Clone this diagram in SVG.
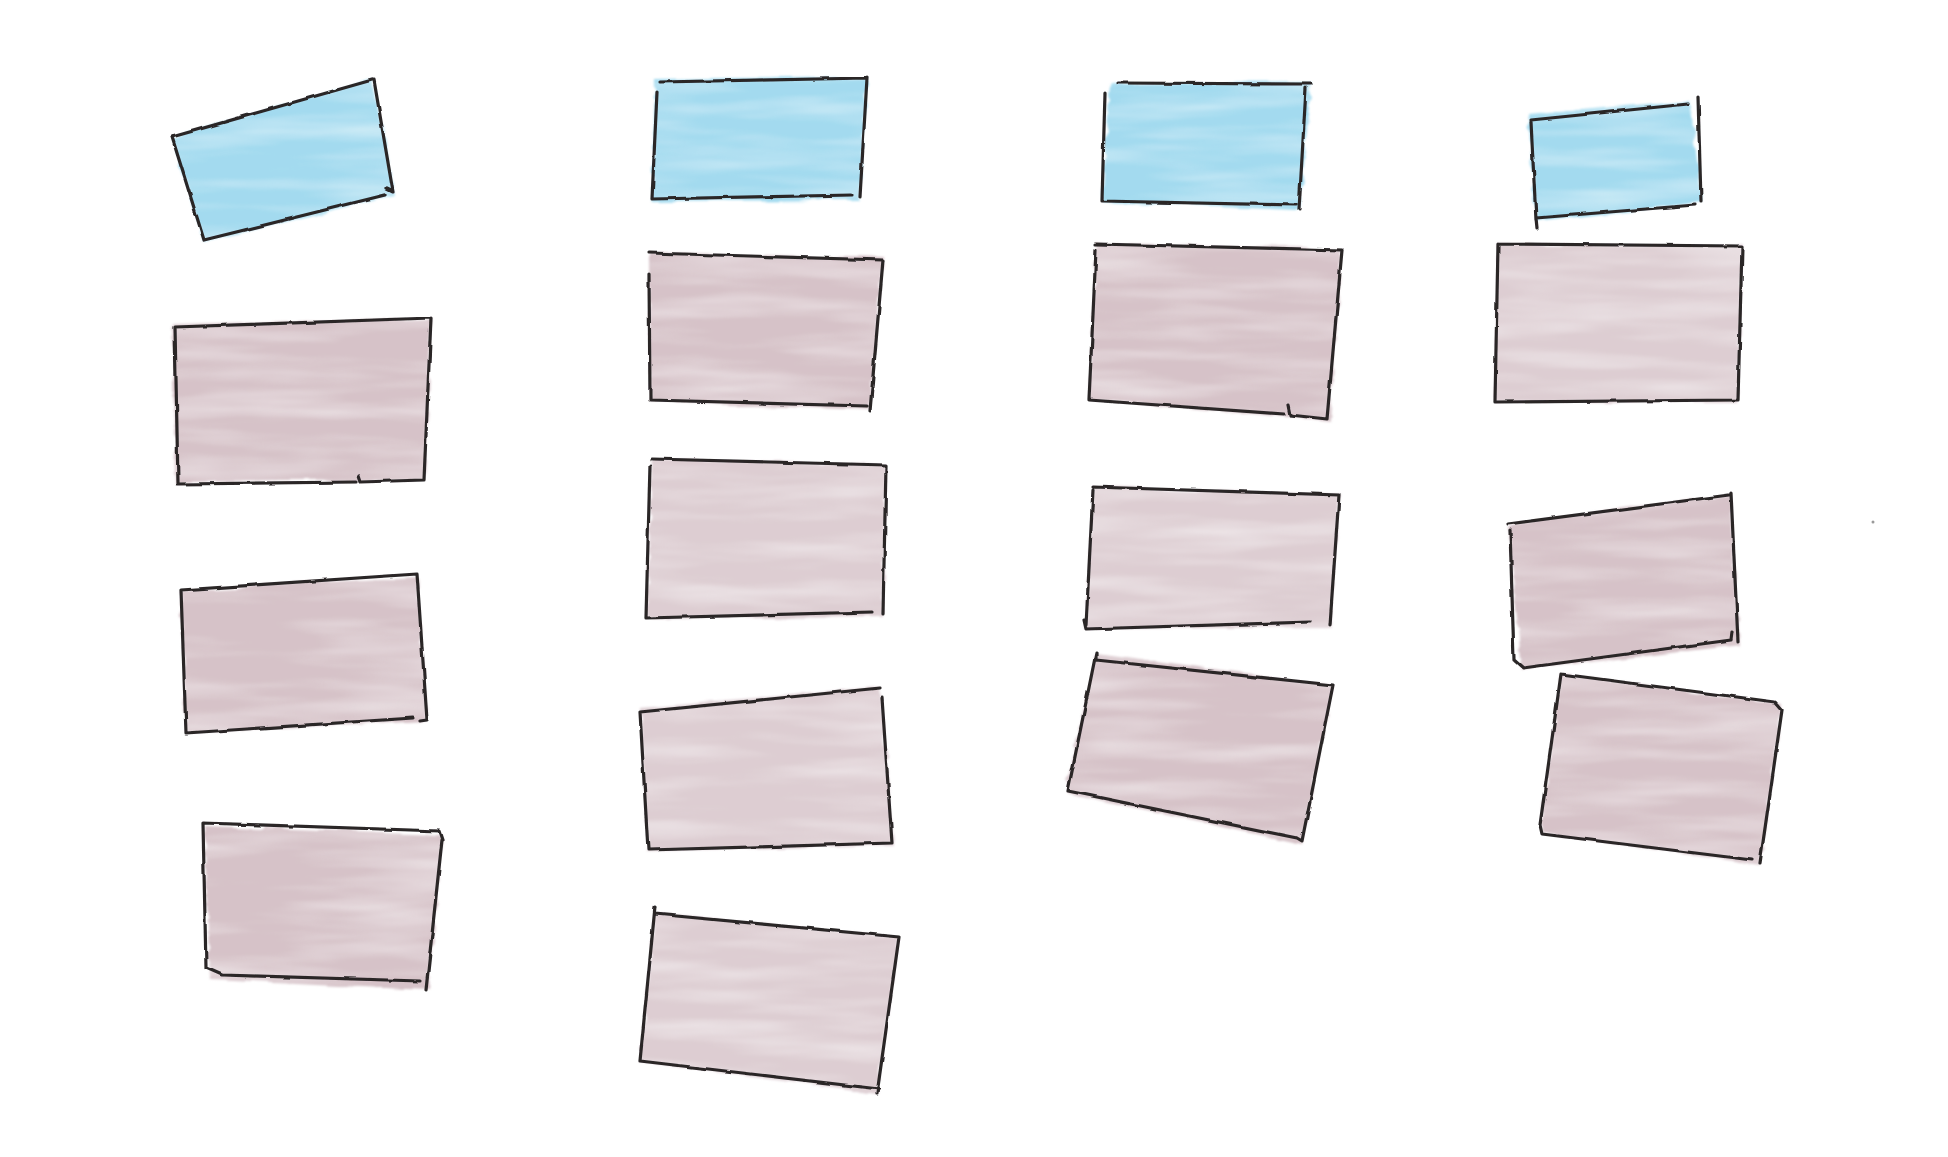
<svg xmlns="http://www.w3.org/2000/svg" width="1948" height="1157" viewBox="0 0 1948 1157">
<defs>
<filter id="wash" x="-10%" y="-10%" width="120%" height="120%">
<feTurbulence type="fractalNoise" baseFrequency="0.02 0.08" numOctaves="3" seed="3" result="n"/>
<feDisplacementMap in="SourceGraphic" in2="n" scale="8" xChannelSelector="R" yChannelSelector="G" result="d"/>
<feTurbulence type="fractalNoise" baseFrequency="0.006 0.05" numOctaves="3" seed="11" result="t"/>
<feColorMatrix in="t" type="matrix" values="0 0 0 0 0  0 0 0 0 0  0 0 0 0 0  0.9 0 0 0 0.45" result="a"/>
<feComposite in="d" in2="a" operator="in" result="c"/>
<feGaussianBlur in="c" stdDeviation="1.2"/>
</filter>
<filter id="pencil" x="-5%" y="-5%" width="110%" height="110%">
<feTurbulence type="fractalNoise" baseFrequency="0.05" numOctaves="2" seed="7" result="n"/>
<feDisplacementMap in="SourceGraphic" in2="n" scale="3" xChannelSelector="R" yChannelSelector="G"/>
</filter>
</defs>
<style>
.blue{fill:#a3daef;filter:url(#wash)}
.pink{fill:#d6c2c8;filter:url(#wash)}
.pale{fill:#ddcdd2;filter:url(#wash)}
.edge{fill:none;stroke:#2a2628;stroke-width:3.2;stroke-linecap:round;stroke-linejoin:round;filter:url(#pencil)}
</style>
<rect width="1948" height="1157" fill="#ffffff"/>

<g id="c1-blue"><polygon class="blue" points="172,137 372,80 395,195 204,242"/><path class="edge" d="M172,137 L372,80 M374,80 L393,192 L387,189 M385,195 L204,240 M204,240 L172,137"/></g>
<g id="c1-box1"><polygon class="pink" points="173,324 431,318 425,480 176,482"/><path class="edge" d="M175,327 L431,318 M431,318 L424,480 M424,480 L360,482 L358,476 M356,482 L178,484 M178,484 L175,327"/></g>
<g id="c1-box2"><polygon class="pink" points="181,590 417,577 427,720 186,733"/><path class="edge" d="M181,590 L417,574 M417,574 L427,720 L420,721 M413,718 L186,733 M186,733 L181,590"/></g>
<g id="c1-box3"><polygon class="pink" points="204,826 443,834 428,990 210,980"/><path class="edge" d="M203,823 L440,831 L443,840 M442,840 L426,990 M420,981 L222,975 L206,968 M206,968 L203,823"/></g>

<g id="c2-blue"><polygon class="blue" points="655,80 867,77 860,200 652,201"/><path class="edge" d="M660,82 L867,78 M867,78 L860,197 M852,195 L652,199 M652,199 L657,92"/></g>
<g id="c2-box1"><polygon class="pink" points="649,252 883,258 870,410 650,402"/><path class="edge" d="M649,253 L883,260 M883,260 L870,411 M867,406 L650,400 M650,400 L649,275"/></g>
<g id="c2-box2"><polygon class="pale" points="652,459 886,465 883,616 647,618"/><path class="edge" d="M652,459 L886,465 M886,465 L883,614 M872,612 L646,618 M646,618 L650,465"/></g>
<g id="c2-box3"><polygon class="pale" points="640,707 880,688 894,845 648,851"/><path class="edge" d="M640,712 L880,688 M882,698 L892,843 M892,843 L648,850 M648,850 L640,712"/></g>
<g id="c2-box4"><polygon class="pale" points="655,914 899,936 877,1094 640,1062"/><path class="edge" d="M655,914 L899,937 M899,937 L877,1094 M879,1089 L640,1061 M640,1061 L655,907"/></g>

<g id="c3-blue"><polygon class="blue" points="1110,84 1311,82 1300,209 1102,202"/><path class="edge" d="M1118,83 L1311,84 M1306,88 L1299,210 M1296,205 L1102,201 M1102,201 L1105,93"/></g>
<g id="c3-box1"><polygon class="pink" points="1096,244 1342,249 1330,422 1089,400"/><path class="edge" d="M1096,244 L1342,250 M1342,250 L1327,419 M1327,419 L1290,415 L1288,405 M1284,414 L1089,400 M1089,400 L1096,250"/></g>
<g id="c3-box2"><polygon class="pale" points="1093,487 1339,495 1330,627 1086,629"/><path class="edge" d="M1093,487 L1339,495 M1339,495 L1330,625 M1310,622 L1086,629 L1084,620 M1086,625 L1093,490"/></g>
<g id="c3-box3"><polygon class="pink" points="1096,653 1333,685 1302,843 1066,793"/><path class="edge" d="M1096,653 L1096,660 L1333,685 M1333,685 L1302,841 L1297,838 M1297,838 L1068,791 M1068,791 L1096,653"/></g>

<g id="c4-blue"><polygon class="blue" points="1528,115 1690,100 1702,202 1536,222"/><path class="edge" d="M1531,120 L1688,104 M1698,97 L1701,201 M1695,205 L1536,218 L1537,228 M1536,220 L1531,122"/></g>
<g id="c4-box1"><polygon class="pale" points="1498,244 1742,246 1738,402 1495,402"/><path class="edge" d="M1498,244 L1742,246 M1742,246 L1738,400 M1738,400 L1495,402 M1495,402 L1498,244"/></g>
<g id="c4-box2"><polygon class="pink" points="1508,524 1729,495 1740,645 1522,670"/><path class="edge" d="M1508,524 L1729,495 M1731,493 L1738,642 M1732,632 L1731,640 L1523,668 L1514,660 M1514,660 L1510,530"/></g>
<g id="c4-box3"><polygon class="pink" points="1561,674 1782,704 1760,865 1540,833"/><path class="edge" d="M1561,674 L1775,702 L1782,710 M1782,710 L1760,863 M1752,860 L1542,834 L1540,825 M1540,825 L1561,674"/></g>

<circle cx="1873" cy="522" r="1.5" fill="#9a9a9a"/>
</svg>
